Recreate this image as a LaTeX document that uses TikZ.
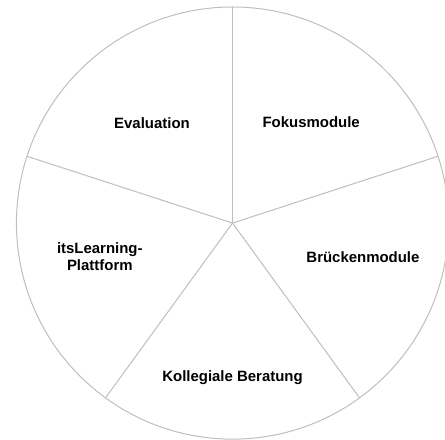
\documentclass[tikz,border=0pt]{standalone}
\usepackage{fontspec}
\setmainfont{Liberation Sans}
\definecolor{spoke}{RGB}{190,190,190}
\begin{document}
\begin{tikzpicture}[font=\bfseries\fontsize{11.25}{13}\selectfont, rim/.style={spoke, line width=0.75pt}]
\useasboundingbox (-6.15,-5.715) rectangle (5.62,5.90);
\draw[rim] (0,0) circle (5.715);

\coordinate (m) at (0,0);
\foreach \a in {90,18,-54,-126,162}
  \draw[rim] (m) -- (\a:5.715);

\node[align=center] (eval) at (-2.13,2.65) {Evaluation};
\node[align=center] (fokus) at (2.08,2.68) {Fokusmodule};
\node[align=center] (bruecke) at (3.45,-0.89) {Brückenmodule};
\node[align=center] (its) at (-3.51,-0.89) {itsLearning-\\Plattform};
\node[align=center] (koll) at (0,-4.09) {Kollegiale Beratung};
\end{tikzpicture}
\end{document}
